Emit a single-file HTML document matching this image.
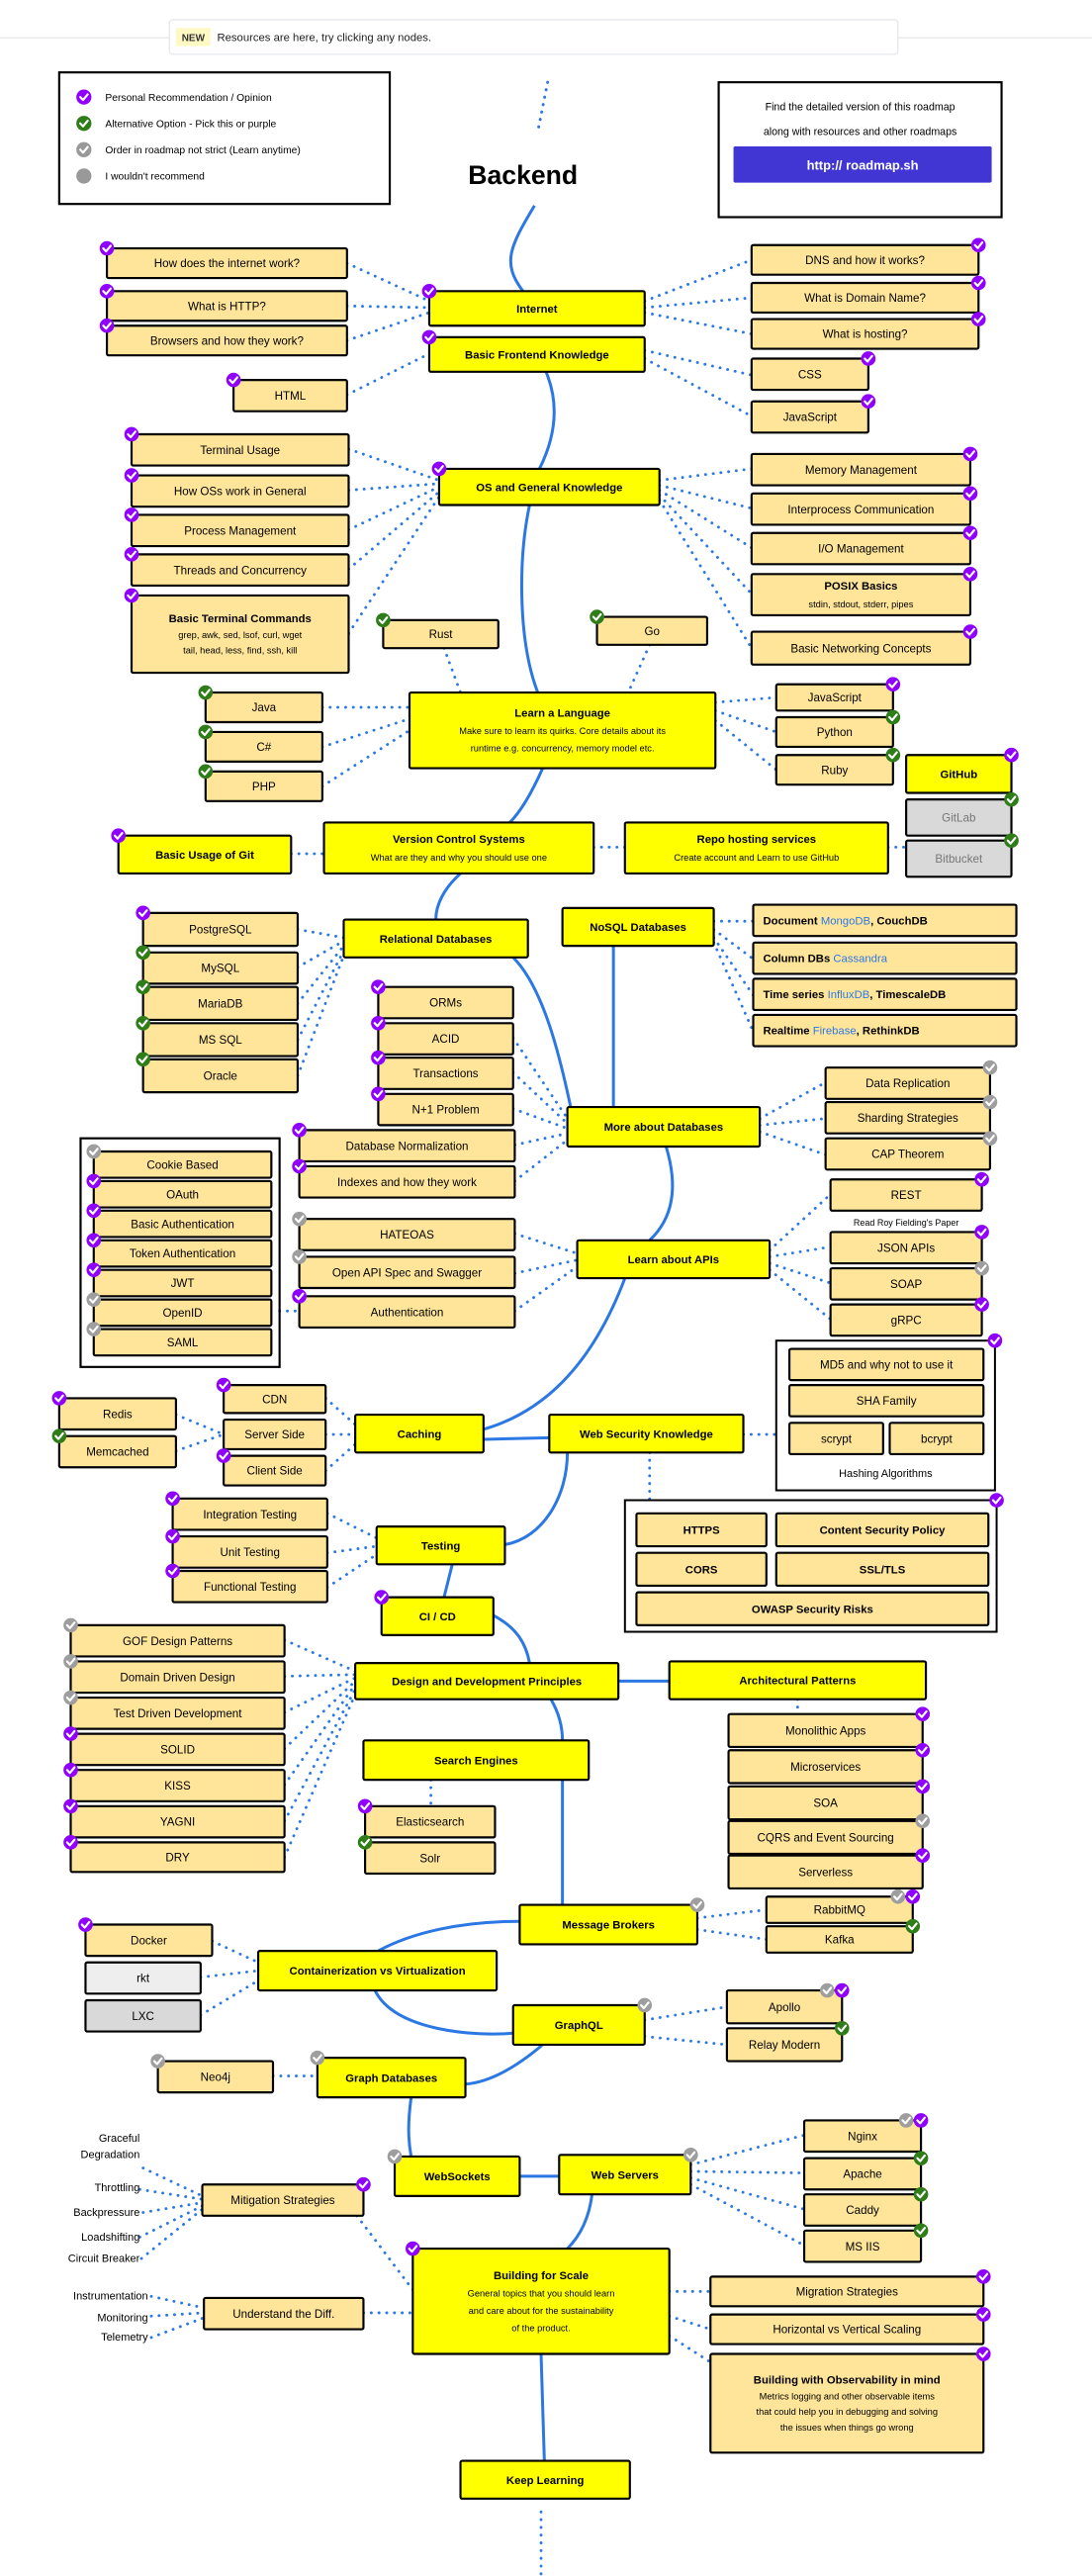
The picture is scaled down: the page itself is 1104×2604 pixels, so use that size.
<!DOCTYPE html>
<html><head><meta charset="utf-8">
<style>
html,body{margin:0;padding:0;background:#fff;}
svg{display:block;}
text{font-family:"Liberation Sans",sans-serif;}
</style></head>
<body>
<svg id="s" xmlns="http://www.w3.org/2000/svg" width="1104" height="2604" viewBox="0 0 664 1566" preserveAspectRatio="none"></svg>
<script>
var o='';
function esc(t){return t.replace(/&/g,'&amp;').replace(/</g,'&lt;');}
var curves=["M333,50 L327,80","M325,125 C310,150 305,160 318,177","M332,226 C340,245 338,265 328,285","M322,307 C315,340 315,390 327,421","M330,467 C322,485 315,495 310,500","M280,531 C270,540 265,550 265,559","M312,582 C330,600 340,640 347,673","M373,575 L373,673","M405,697 C412,720 410,740 395,754","M380,777 C360,830 330,860 290,870","M294,875 L334,874","M345,883 C345,910 330,935 307,939","M275,951 L270,971","M300,982 C315,990 320,1000 322,1011","M335,1033 C342,1045 342,1055 342,1058","M342,1082 L342,1158","M316,1168 C280,1168 250,1175 230,1186","M228,1210 C240,1235 290,1238 312,1236","M330,1243 C310,1260 295,1266 283,1267","M250,1275 C248,1290 248,1300 250,1311","M316,1323 L340,1323","M360,1334 C358,1350 352,1360 345,1367","M329,1431 L331,1496","M376,1022 L407,1022"];
curves.forEach(function(d,i){o+='<path d="'+d+'" fill="none" stroke="#2b78e4" stroke-width="1.8"'+(i==0?' stroke-dasharray="0.1 4.5" stroke-linecap="round"':'')+'/>';});
var dots=[[329,1527,329,1566],
[211,160,261,183],[211,186,261,187],[211,207,261,190],[211,240,261,215],
[392,183,457,158],[392,187,457,181],[392,190,457,203],[392,213,457,228],[392,218,457,253],
[212,273,267,292],[212,298,267,294],[212,322,267,296],[212,346,267,299],[212,385,267,302],
[401,292,457,285],[401,295,457,309],[401,298,457,333],[401,301,457,361],[401,304,457,394],
[270,394,280,421],[395,392,382,421],
[196,430,249,430],[196,454,249,437],[196,478,249,444],
[435,427,472,424],[435,432,472,445],[435,438,472,468],
[177,519,197,519],[361,515,380,515],[540,515,551,515],
[181,565,209,570],[181,588,209,572],[181,610,209,575],[181,632,209,578],[181,654,209,581],
[434,560,458,560],[434,565,458,583],[434,570,458,605],[434,573,458,627],
[312,631,345,680],[312,652,345,683],[312,674,345,686],[313,696,345,689],[313,718,345,693],
[462,680,502,658],[462,684,502,680],[462,688,502,702],
[313,750,351,762],[313,774,351,766],[313,797,351,770],[170,797,182,797],
[468,760,505,726],[468,764,505,758],[468,768,505,780],[468,772,505,802],
[198,850,216,866],[198,872,216,872],[198,894,216,878],[107,860,136,872],[107,882,136,872],
[452,872,472,872],[395,883,395,912],
[199,920,229,935],[199,944,229,940],[199,965,229,945],
[173,997,216,1016],[173,1019,216,1018],[173,1041,216,1020],[173,1063,216,1022],[173,1085,216,1024],[173,1107,216,1027],[173,1129,216,1030],
[485,1033,485,1042],[262,1082,262,1098],
[424,1166,466,1161],[424,1173,466,1179],
[129,1180,157,1193],[122,1202,157,1198],[122,1225,157,1204],
[392,1228,442,1220],[392,1238,442,1243],[166,1262,193,1262],
[420,1316,489,1298],[420,1320,489,1321],[420,1324,489,1343],[420,1328,489,1365],
[87,1318,123,1335],[85,1331,123,1337],[87,1345,123,1339],[85,1360,123,1341],[86,1373,123,1343],[217,1347,251,1392],
[221,1406,251,1406],[92,1396,124,1403],[92,1408,124,1406],[92,1421,124,1409],
[407,1393,432,1393],[407,1408,432,1416],[407,1420,432,1436]];
dots.forEach(function(d){o+='<line x1="'+d[0]+'" y1="'+d[1]+'" x2="'+d[2]+'" y2="'+d[3]+'" stroke="#2b78e4" stroke-width="1.7" stroke-linecap="round" stroke-dasharray="0.1 4.6"/>';});
[[49,692,121,139,1.3],[472,815,133,91,1.2],[380,912,226,80,1.2],[36,44,201,80,1.3],[437,50,172,82,1.3]].forEach(function(b){o+='<rect x="'+b[0]+'" y="'+b[1]+'" width="'+b[2]+'" height="'+b[3]+'" fill="none" stroke="#000" stroke-width="'+b[4]+'"/>';});
o+='<line x1="0" y1="23" x2="664" y2="23" stroke="#e5e7eb" stroke-width="0.8"/>';
o+='<rect x="103" y="12" width="443" height="21" rx="2" fill="#fff" stroke="#e5e7eb" stroke-width="0.8"/>';
o+='<rect x="107" y="17" width="21" height="11" fill="#fef9c3"/><text x="117.5" y="25" font-size="6" font-weight="bold" text-anchor="middle" fill="#333">NEW</text>';
o+='<text x="132" y="25" font-size="6.8" fill="#222">Resources are here, try clicking any nodes.</text>';
var lg=[["#8f00ff","Personal Recommendation / Opinion",59],["#2e7d18","Alternative Option - Pick this or purple",75],["#999","Order in roadmap not strict (Learn anytime)",91],["#999","I wouldn't recommend",107]];
lg.forEach(function(l,i){o+='<circle cx="51" cy="'+l[2]+'" r="4.6" fill="'+l[0]+'"/>';if(i<3)o+=chk(51,l[2]);o+='<text x="64" y="'+(l[2]+2.3)+'" font-size="6.2">'+l[1]+'</text>';});
o+='<text x="523" y="67" font-size="6.4" text-anchor="middle">Find the detailed version of this roadmap</text><text x="523" y="82" font-size="6.4" text-anchor="middle">along with resources and other roadmaps</text>';
o+='<rect x="446" y="89" width="157" height="22" rx="1" fill="#4136d4"/><text x="524.5" y="103" font-size="7.8" font-weight="bold" fill="#fff" text-anchor="middle">http:// roadmap.sh</text>';
o+='<text x="318" y="112" font-size="16" font-weight="bold" text-anchor="middle">Backend</text>';
function chk(x,y){return '<path d="M'+(x-2.2)+','+y+' L'+(x-0.5)+','+(y+1.8)+' L'+(x+2.3)+','+(y-1.6)+'" fill="none" stroke="#fff" stroke-width="1.3" stroke-linecap="round" stroke-linejoin="round"/>';}
function badge(x,y,c){var col={p:"#8f00ff",g:"#2e7d18",x:"#9e9e9e"}[c];return '<circle cx="'+x+'" cy="'+y+'" r="4.4" fill="'+col+'"/>'+chk(x,y);}
var N=[
[65,151,211,169,"How does the internet work?","s","p","tl"],[65,177,211,195,"What is HTTP?","s","p","tl"],[65,198,211,216,"Browsers and how they work?","s","p","tl"],[142,231,211,250,"HTML","s","p","tl"],
[261,177,392,198,"Internet","y","p","tl"],[261,205,392,226,"Basic Frontend Knowledge","y","p","tl"],
[457,149,595,167,"DNS and how it works?","s","p","tr"],[457,172,595,190,"What is Domain Name?","s","p","tr"],[457,194,595,212,"What is hosting?","s","p","tr"],[457,218,528,237,"CSS","s","p","tr"],[457,244,528,263,"JavaScript","s","p","tr"],
[267,285,401,307,"OS and General Knowledge","y","p","tl"],
[80,264,212,283,"Terminal Usage","s","p","tl"],[80,289,212,308,"How OSs work in General","s","p","tl"],[80,313,212,332,"Process Management","s","p","tl"],[80,337,212,356,"Threads and Concurrency","s","p","tl"],
[80,362,212,409,"#Basic Terminal Commands|grep, awk, sed, lsof, curl, wget|tail, head, less, find, ssh, kill","s","p","tl"],
[457,276,590,295,"Memory Management","s","p","tr"],[457,300,590,319,"Interprocess Communication","s","p","tr"],[457,324,590,343,"I/O Management","s","p","tr"],[457,349,590,374,"#POSIX Basics|stdin, stdout, stderr, pipes","s","p","tr"],[457,384,590,404,"Basic Networking Concepts","s","p","tr"],
[233,377,303,394,"Rust","s","g","tl"],[363,375,430,392,"Go","s","g","tl"],
[249,421,435,467,"#Learn a Language|Make sure to learn its quirks. Core details about its|runtime e.g. concurrency, memory model etc.","y","",""],
[125,421,196,439,"Java","s","g","tl"],[125,445,196,463,"C#","s","g","tl"],[125,469,196,487,"PHP","s","g","tl"],
[472,416,543,432,"JavaScript","s","p","tr"],[472,436,543,454,"Python","s","g","tr"],[472,459,543,477,"Ruby","s","g","tr"],
[551,459,615,482,"GitHub","y","p","tr"],[551,486,615,508,"GitLab","G","g","tr"],[551,511,615,533,"Bitbucket","G","g","tr"],
[72,508,177,531,"Basic Usage of Git","y","p","tl"],
[197,500,361,531,"#Version Control Systems|What are they and why you should use one","y","",""],
[380,500,540,531,"#Repo hosting services|Create account and Learn to use GitHub","y","",""],
[209,559,321,582,"Relational Databases","y","",""],[342,552,434,575,"NoSQL Databases","y","",""],
[87,555,181,575,"PostgreSQL","s","p","tl"],[87,579,181,598,"MySQL","s","g","tl"],[87,600,181,620,"MariaDB","s","g","tl"],[87,622,181,642,"MS SQL","s","g","tl"],[87,644,181,664,"Oracle","s","g","tl"],
[458,550,618,569,"@<tspan font-weight=\"bold\">Document  </tspan><tspan fill=\"#2b78e4\">MongoDB</tspan><tspan font-weight=\"bold\">, CouchDB</tspan>","s","",""],
[458,573,618,592,"@<tspan font-weight=\"bold\">Column DBs  </tspan><tspan fill=\"#2b78e4\">Cassandra</tspan>","s","",""],
[458,595,618,614,"@<tspan font-weight=\"bold\">Time series  </tspan><tspan fill=\"#2b78e4\">InfluxDB</tspan><tspan font-weight=\"bold\">, TimescaleDB</tspan>","s","",""],
[458,617,618,636,"@<tspan font-weight=\"bold\">Realtime  </tspan><tspan fill=\"#2b78e4\">Firebase</tspan><tspan font-weight=\"bold\">, RethinkDB</tspan>","s","",""],
[230,600,312,619,"ORMs","s","p","tl"],[230,622,312,641,"ACID","s","p","tl"],[230,643,312,662,"Transactions","s","p","tl"],[230,665,312,684,"N+1 Problem","s","p","tl"],
[182,687,313,706,"Database Normalization","s","p","tl"],[182,709,313,728,"Indexes and how they work","s","p","tl"],
[345,673,462,697,"More about Databases","y","",""],
[502,649,602,668,"Data Replication","s","x","tr"],[502,670,602,689,"Sharding Strategies","s","x","tr"],[502,692,602,711,"CAP Theorem","s","x","tr"],
[57,700,165,716,"Cookie Based","s","x","tl"],[57,718,165,734,"OAuth","s","p","tl"],[57,736,165,752,"Basic Authentication","s","p","tl"],[57,754,165,770,"Token Authentication","s","p","tl"],[57,772,165,788,"JWT","s","p","tl"],[57,790,165,806,"OpenID","s","x","tl"],[57,808,165,824,"SAML","s","x","tl"],
[182,741,313,760,"HATEOAS","s","x","tl"],[182,764,313,783,"Open API Spec and Swagger","s","x","tl"],[182,788,313,807,"Authentication","s","p","tl"],
[351,754,468,777,"Learn about APIs","y","",""],
[505,717,597,736,"REST","s","p","tr"],[505,749,597,768,"JSON APIs","s","p","tr"],[505,771,597,790,"SOAP","s","x","tr"],[505,793,597,812,"gRPC","s","p","tr"],
[480,820,598,839,"MD5 and why not to use it","s","",""],[480,842,598,861,"SHA Family","s","",""],[480,865,537,884,"scrypt","s","",""],[541,865,598,884,"bcrypt","s","",""],
[334,860,452,883,"Web Security Knowledge","y","",""],[216,860,294,883,"Caching","y","",""],
[136,842,198,859,"CDN","s","p","tl"],[136,863,198,881,"Server Side","s","",""],[136,885,198,903,"Client Side","s","p","tl"],
[36,850,107,869,"Redis","s","p","tl"],[36,873,107,892,"Memcached","s","g","tl"],
[387,920,466,940,"!HTTPS","s","",""],[472,920,601,940,"!Content Security Policy","s","",""],[387,944,466,964,"!CORS","s","",""],[472,944,601,964,"!SSL/TLS","s","",""],[387,968,601,988,"!OWASP Security Risks","s","",""],
[229,928,307,951,"Testing","y","",""],
[105,911,199,930,"Integration Testing","s","p","tl"],[105,934,199,953,"Unit Testing","s","p","tl"],[105,955,199,974,"Functional Testing","s","p","tl"],
[232,971,300,994,"CI / CD","y","p","tl"],
[216,1011,376,1033,"Design and Development Principles","y","",""],[407,1010,563,1033,"Architectural Patterns","y","",""],
[43,988,173,1007,"GOF Design Patterns","s","x","tl"],[43,1010,173,1029,"Domain Driven Design","s","x","tl"],[43,1032,173,1051,"Test Driven Development","s","x","tl"],[43,1054,173,1073,"SOLID","s","p","tl"],[43,1076,173,1095,"KISS","s","p","tl"],[43,1098,173,1117,"YAGNI","s","p","tl"],[43,1120,173,1138,"DRY","s","p","tl"],
[221,1058,358,1082,"Search Engines","y","",""],
[222,1098,301,1117,"Elasticsearch","s","p","tl"],[222,1120,301,1139,"Solr","s","g","tl"],
[443,1042,561,1062,"Monolithic Apps","s","p","tr"],[443,1064,561,1084,"Microservices","s","p","tr"],[443,1086,561,1106,"SOA","s","p","tr"],[443,1107,561,1127,"CQRS and Event Sourcing","s","x","tr"],[443,1128,561,1148,"Serverless","s","p","tr"],
[316,1158,424,1182,"Message Brokers","y","x","tr"],
[466,1153,555,1169,"RabbitMQ","s","xp","tr"],[466,1171,555,1187,"Kafka","s","g","tr"],
[157,1186,302,1210,"Containerization vs Virtualization","y","",""],
[52,1170,129,1189,"Docker","s","p","tl"],[52,1193,122,1212,"rkt","L","",""],[52,1216,122,1235,"LXC","G2","",""],
[312,1219,392,1243,"GraphQL","y","x","tr"],
[442,1210,512,1230,"Apollo","s","xp","tr"],[442,1233,512,1253,"Relay Modern","s","g","tr"],
[193,1251,283,1275,"Graph Databases","y","x","tl"],[96,1253,166,1272,"Neo4j","s","x","tl"],
[240,1311,316,1335,"WebSockets","y","x","tl"],[340,1310,420,1334,"Web Servers","y","x","tr"],
[489,1289,560,1308,"Nginx","s","xp","tr"],[489,1312,560,1331,"Apache","s","g","tr"],[489,1334,560,1353,"Caddy","s","g","tr"],[489,1356,560,1375,"MS IIS","s","g","tr"],
[123,1328,221,1347,"Mitigation Strategies","s","p","tr"],
[251,1367,407,1431,"#Building for Scale|General topics that you should learn|and care about for the sustainability|of the product.","y","p","tl"],
[124,1397,221,1416,"Understand the Diff.","s","",""],
[432,1384,598,1402,"Migration Strategies","s","p","tr"],[432,1407,598,1425,"Horizontal vs Vertical Scaling","s","p","tr"],
[432,1431,598,1491,"#Building with Observability in mind|Metrics logging and other observable items|that could help you in debugging and solving|the issues when things go wrong","s","p","tr"],
[280,1496,383,1519,"Keep Learning","y","",""]
];
var B='';
N.forEach(function(n){
 var x1=n[0],y1=n[1],x2=n[2],y2=n[3],t=n[4],ty=n[5];
 var fill={y:"#ffff00",s:"#ffe599",G:"#d9d9d9",L:"#eeeeee",G2:"#d9d9d9"}[ty];
 o+='<rect x="'+x1+'" y="'+y1+'" width="'+(x2-x1)+'" height="'+(y2-y1)+'" rx="1" fill="'+fill+'" stroke="#000" stroke-width="1.3"/>';
 var cx=(x1+x2)/2,cy=(y1+y2)/2,bold=(ty=="y"),col=(ty=="G")?"#777":"#000";
 if(t[0]=="#"){
  var ls=t.slice(1).split("|"),lh=ty=="y"?10.5:9.5;
  if(ls.length==2)lh=11;
  var sy=cy-(ls.length-1)*lh/2;
  ls.forEach(function(l,i){o+='<text x="'+cx+'" y="'+(sy+i*lh+2.3)+'" font-size="'+(i==0?6.8:5.6)+'" '+(i==0?'font-weight="bold"':'')+' text-anchor="middle">'+esc(l)+'</text>';});
 } else if(t[0]=="@"){
  o+='<text x="'+(x1+6)+'" y="'+(cy+2.4)+'" font-size="6.8">'+t.slice(1)+'</text>';
 } else {
  var b=bold||t[0]=="!";if(t[0]=="!")t=t.slice(1);
  o+='<text x="'+cx+'" y="'+(cy+2.5)+'" font-size="'+(b?6.8:7)+'" '+(b?'font-weight="bold"':'')+' fill="'+col+'" text-anchor="middle">'+esc(t)+'</text>';
 }
 if(n[6]){var bx=n[7]=="tl"?x1:x2;
  if(n[6].length==2){B+=badge(bx-9,y1,n[6][0])+badge(bx,y1,n[6][1]);} else B+=badge(bx,y1,n[6]);}
});
o+=B;
o+=badge(605,815,"p")+badge(606,912,"p");
var ft=[[551,745,"Read Roy Fielding's Paper","middle",5.4],[538.5,898,"Hashing Algorithms","middle",6.6],
[85,1302,"Graceful","end",6.6],[85,1312,"Degradation","end",6.6],[85,1332,"Throttling","end",6.6],[85,1347,"Backpressure","end",6.6],[85,1362,"Loadshifting","end",6.6],[85,1375,"Circuit Breaker","end",6.6],
[90,1398,"Instrumentation","end",6.6],[90,1411,"Monitoring","end",6.6],[90,1423,"Telemetry","end",6.6]];
ft.forEach(function(f){o+='<text x="'+f[0]+'" y="'+f[1]+'" font-size="'+f[4]+'" text-anchor="'+f[3]+'">'+esc(f[2])+'</text>';});
document.getElementById('s').innerHTML=o;
</script>
</body></html>
